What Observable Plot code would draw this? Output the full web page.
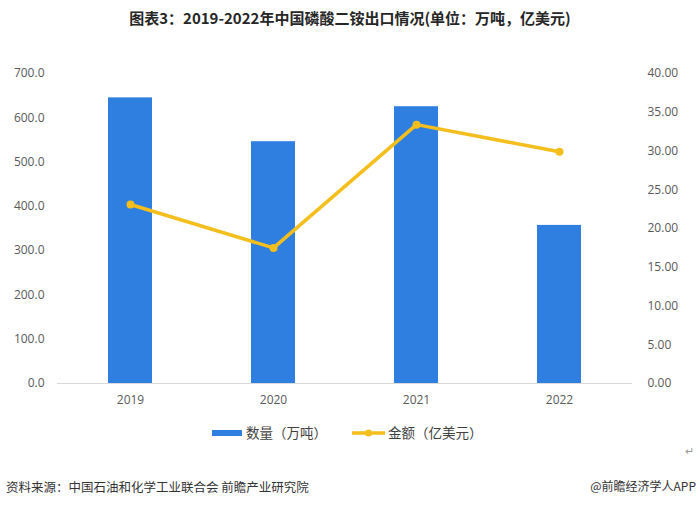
<!DOCTYPE html>
<html>
<head>
<meta charset="utf-8">
<script src="https://cdn.jsdelivr.net/npm/d3@7"></script>
<script src="https://cdn.jsdelivr.net/npm/@observablehq/plot@0.6"></script>
<style>
  body { margin: 0; background: #fff; font-family: "Noto Sans CJK SC", "Open Sans", sans-serif; }
  #wrap { position: relative; width: 700px; height: 506px; overflow: hidden; }
  #title { position: absolute; left: 0; top: 7px; width: 700px; text-align: center; font-size: 15px; font-weight: bold; color: #262626; }
  #chart { position: absolute; left: 0; top: 40px; }
  #legend { position: absolute; top: 423px; left: 0; width: 700px; height: 20px; font-size: 13px; color: #404040; }
  #src { position: absolute; left: 6px; top: 477px; font-size: 12.5px; color: #333; }
  #app { position: absolute; right: 4px; top: 477px; font-size: 12px; color: #333; }
  #ret { position: absolute; right: 6px; top: 442px; font-size: 11px; color: #999; }
</style>
</head>
<body>
<div id="wrap">
  <div id="title"></div>
  <div id="chart"></div>
  <div id="legend"></div>
  <div id="ret">↵</div>
  <div id="src"></div>
  <div id="app"></div>
</div>
<script>
const titleText = "图表3：2019-2022年中国磷酸二铵出口情况(单位：万吨，亿美元)";
const years = ["2019", "2020", "2021", "2022"];
const quantity = [645, 546, 625, 357];      // 数量（万吨）
const amount = [23.1, 17.5, 33.4, 29.9];    // 金额（亿美元）
const leftTicks = [0, 100, 200, 300, 400, 500, 600, 700];
const rightTicks = [0, 5, 10, 15, 20, 25, 30, 35, 40];
const seriesNames = ["数量（万吨）", "金额（亿美元）"];
const sourceText = "资料来源：中国石油和化学工业联合会 前瞻产业研究院";
const appText = "@前瞻经济学人APP";

const blue = "#2f7fe0";
const gold = "#f4be1c";
const ratio = 700 / 40;

const rows = years.map((y, i) => ({year: y, q: quantity[i], a: amount[i]}));

document.getElementById("title").textContent = titleText;
document.getElementById("src").textContent = sourceText;
document.getElementById("app").textContent = appText;

const chart = Plot.plot({
  width: 700,
  height: 380,
  marginLeft: 57,
  marginRight: 68,
  marginTop: 33,
  marginBottom: 37,
  style: {fontFamily: "'Open Sans', 'Noto Sans', sans-serif", fontSize: "12px", color: "#595959"},
  x: {domain: years, paddingInner: 0.69, paddingOuter: 0.345, label: null},
  y: {domain: [0, 700], label: null},
  marks: [
    Plot.barY(rows, {x: "year", y: "q", fill: blue}),
    Plot.ruleY([0], {stroke: "#d9d9d9", strokeWidth: 1}),
    Plot.line(rows, {x: "year", y: d => d.a * ratio, stroke: gold, strokeWidth: 3.5}),
    Plot.dot(rows, {x: "year", y: d => d.a * ratio, r: 4, fill: gold, stroke: null}),
    Plot.axisX({tickSize: 0, tickPadding: 12, label: null, fill: "#595959"}),
    Plot.axisY({ticks: leftTicks, tickSize: 0, tickPadding: 13, label: null, tickFormat: d => d.toFixed(1), fill: "#595959"}),
    Plot.axisY({anchor: "right", ticks: rightTicks.map(t => t * ratio), tickSize: 0, tickPadding: 15, label: null,
      tickFormat: d => (d / ratio).toFixed(2), textAnchor: "start", fill: "#595959"})
  ]
});
document.getElementById("chart").appendChild(chart);

// Legend
const lg = d3.select("#legend").append("svg").attr("width", 700).attr("height", 20);
lg.append("rect").attr("x", 212).attr("y", 7).attr("width", 30).attr("height", 6).attr("fill", blue);
lg.append("text").attr("x", 246).attr("y", 14.5).attr("font-size", 13.5).attr("fill", "#404040")
  .attr("font-family", "'Noto Sans CJK SC', sans-serif").text(seriesNames[0]);
lg.append("line").attr("x1", 352).attr("x2", 385).attr("y1", 10).attr("y2", 10).attr("stroke", gold).attr("stroke-width", 3.5);
lg.append("circle").attr("cx", 368.5).attr("cy", 10).attr("r", 3.5).attr("fill", gold);
lg.append("text").attr("x", 388).attr("y", 14.5).attr("font-size", 13.5).attr("fill", "#404040")
  .attr("font-family", "'Noto Sans CJK SC', sans-serif").text(seriesNames[1]);
</script>
</body>
</html>
